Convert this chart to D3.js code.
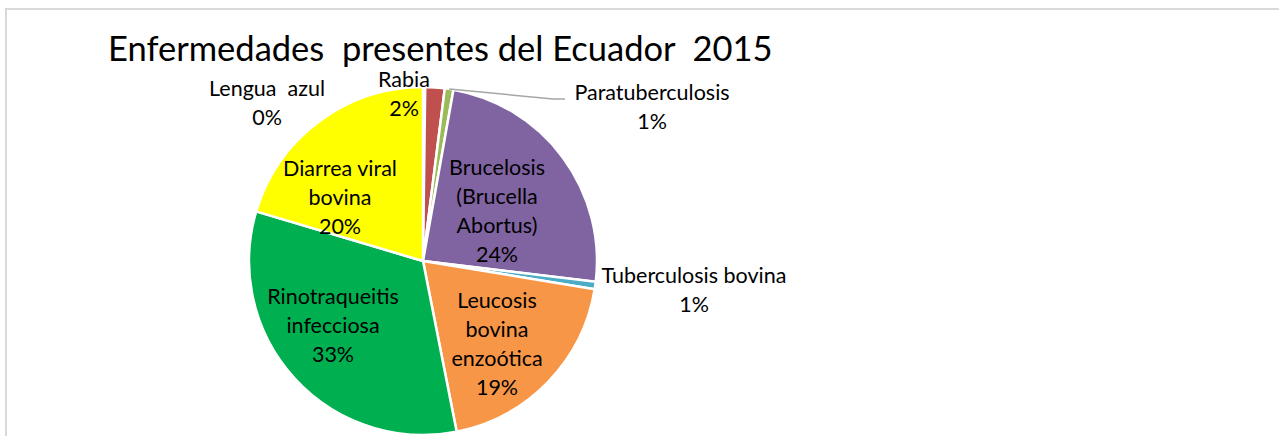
<!DOCTYPE html>
<html>
<head>
<meta charset="utf-8">
<script src="https://cdn.jsdelivr.net/npm/d3@7"></script>
<style>
  body { margin: 0; background: #fff; }
  text { font-family: Lato, "Liberation Sans", sans-serif; fill: #000; }
</style>
</head>
<body>
<script>
// datos del gráfico
var categories = ["Lengua  azul", "Rabia", "Paratuberculosis", "Brucelosis (Brucella Abortus)",
  "Tuberculosis bovina", "Leucosis bovina enzoótica", "Rinotraqueitis infecciosa", "Diarrea viral bovina"];
var values = [0.2, 1.8, 0.8, 24.1, 0.7, 19.3, 32.7, 20.4];
var colors = ["#4F81BD", "#C0504D", "#9BBB59", "#8064A2", "#4BACC6", "#F79646", "#00B050", "#FFFF00"];
var percentLabels = ["0%", "2%", "1%", "24%", "1%", "19%", "33%", "20%"];

var W = 1279, H = 436;
var cx = 423, cy = 261, r = 174;

// líneas de cada etiqueta y ajuste respecto al centro del pastel
var labelLines = [
  ["Lengua  azul"], ["Rabia"], ["Paratuberculosis"], ["Brucelosis", "(Brucella", "Abortus)"],
  ["Tuberculosis bovina"], ["Leucosis", "bovina", "enzoótica"], ["Rinotraqueitis", "infecciosa"], ["Diarrea viral", "bovina"]
];
var labelAt = [[-156, -158], [-19, -167], [229, -154], [74, -50], [271, 29], [74, 83], [-90, 64], [-83, -64]];

var svg = d3.select("body").append("svg")
  .attr("width", W)
  .attr("height", H);

// marco
svg.append("rect")
  .attr("x", 6).attr("y", 9)
  .attr("width", W + 10).attr("height", H)
  .attr("fill", "none")
  .attr("stroke", "#d9d9d9")
  .attr("stroke-width", 2);

svg.append("text")
  .attr("x", 108).attr("y", 61)
  .attr("font-size", "34.5px")
  .style("white-space", "pre")
  .text("Enfermedades  presentes del Ecuador  2015");

var pie = d3.pie().sort(null).value(function (d) { return d; });
var arcs = pie(values);
var arc = d3.arc().innerRadius(0).outerRadius(r);

var g = svg.append("g").attr("transform", "translate(" + cx + "," + cy + ")");

g.selectAll("path")
  .data(arcs)
  .enter()
  .append("path")
  .attr("d", arc)
  .attr("fill", function (d, i) { return colors[i]; })
  .attr("stroke", "#fff")
  .attr("stroke-width", 2.5);

// línea guía de Paratuberculosis
var a2 = arcs[2], mid = (a2.startAngle + a2.endAngle) / 2;
var p0 = [Math.sin(mid) * r, -Math.cos(mid) * r];
g.append("polyline")
  .attr("points", [p0, [130, -162], [142, -162]].map(function (p) { return p.join(","); }).join(" "))
  .attr("fill", "none")
  .attr("stroke", "#a6a6a6")
  .attr("stroke-width", 1.5);

var lh = 29;
var lbl = g.selectAll("g.lbl")
  .data(arcs)
  .enter()
  .append("g")
  .attr("class", "lbl")
  .attr("transform", function (d, i) { return "translate(" + labelAt[i][0] + "," + labelAt[i][1] + ")"; });

lbl.each(function (d, i) {
  var lines = labelLines[i].concat([percentLabels[i]]);
  var t = d3.select(this).append("text")
    .attr("text-anchor", "middle")
    .attr("font-size", "21.5px")
    .style("white-space", "pre");
  lines.forEach(function (s, k) {
    t.append("tspan")
      .attr("x", 0)
      .attr("y", (k - (lines.length - 1) / 2) * lh + 7.5)
      .text(s);
  });
});
</script>
</body>
</html>
